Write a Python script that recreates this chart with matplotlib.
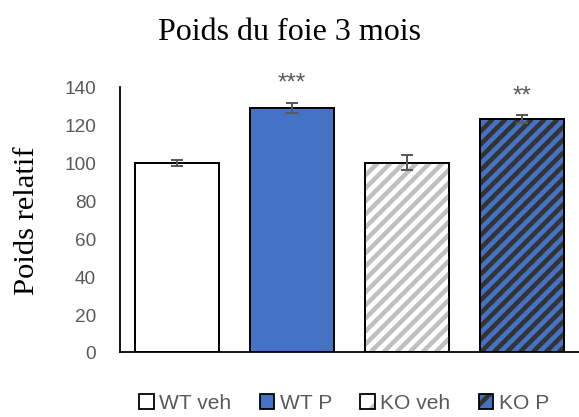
import matplotlib.pyplot as plt
from matplotlib.patches import Patch
from matplotlib.collections import LineCollection
from matplotlib.transforms import IdentityTransform
from matplotlib.legend_handler import HandlerTuple

# données : poids du foie relatif à 3 mois
groupes = ['WT veh', 'WT P', 'KO veh', 'KO P']
poids = [100, 129, 100, 123]
erreurs = [1.5, 2.7, 4, 2]
etoiles = ['', '***', '', '**']
fonds = ['white', '#4472C4', 'white', '#4472C4']
rayees = [False, False, True, True]
couleurs_rayures = [None, None, '#c0c0c0', '#333333']

DPI = 78
P = 72 / DPI  # pixels -> points
gris = '#595959'

fig = plt.figure(figsize=(579 / DPI, 418 / DPI), dpi=DPI)
ax = fig.add_axes([120 / 579, 1 - 353 / 418, 459 / 579, (353 - 88) / 418])

x = range(len(groupes))
barres = ax.bar(x, poids, width=0.73, color=fonds, edgecolor='black',
                linewidth=1.8 * P, zorder=2)
ax.errorbar(x, poids, yerr=erreurs, fmt='none', ecolor=gris,
            elinewidth=2 * P, capsize=6 * P, capthick=2 * P, zorder=4)
for i in x:
    if etoiles[i]:
        ax.text(i, poids[i] + erreurs[i] + 7.5, etoiles[i], ha='center', va='baseline',
                color=gris, fontsize=24 * P, family='Liberation Sans')

ax.set_xlim(-0.5, 3.5)
ax.set_ylim(0, 140)


def rayures(barre, couleur, pas=13, epaisseur=4.5):
    # rayures diagonales à 45°, en pixels, découpées sur la barre
    x0, y0, x1, y1 = barre.get_window_extent().extents
    h = y1 - y0
    segs = []
    d = x0 - h
    while d < x1:
        segs.append([(d, y0), (d + h, y1)])
        d += pas
    lc = LineCollection(segs, colors=couleur, linewidths=epaisseur * P,
                        transform=IdentityTransform(), zorder=2.5)
    ax.add_collection(lc, autolim=False)
    lc.set_clip_path(barre)


for b, r, c in zip(barres, rayees, couleurs_rayures):
    if r:
        rayures(b, c)
# contour noir au-dessus des rayures
ax.bar(x, poids, width=0.73, fill=False, edgecolor='black', linewidth=1.8 * P, zorder=3)

ax.set_yticks(range(0, 141, 20))
ax.set_xticks([])
ax.tick_params(axis='y', length=0, pad=24 * P, labelsize=19 * P, labelcolor=gris)
for lab in ax.get_yticklabels():
    lab.set_family('Liberation Sans')
for s in ['top', 'right']:
    ax.spines[s].set_visible(False)
for s in ['left', 'bottom']:
    ax.spines[s].set_linewidth(1.8 * P)
    ax.spines[s].set_color('black')
    ax.spines[s].set_zorder(5)

ax.set_ylabel('Poids relatif', family='Liberation Serif', fontsize=30.5 * P, labelpad=24 * P)
fig.text(0.5, 1 - 33 / 418, 'Poids du foie 3 mois', ha='center', va='center',
         family='Liberation Serif', fontsize=32 * P)

plt.rcParams['hatch.linewidth'] = 4.5 * P
poignees = []
for i in x:
    fond = Patch(facecolor=fonds[i], hatch='/' if rayees[i] else '',
                 edgecolor=couleurs_rayures[i] or fonds[i], linewidth=0)
    contour = Patch(fill=False, edgecolor='black', linewidth=1.8 * P)
    poignees.append((fond, contour))
leg = fig.legend(poignees, groupes, loc='center', bbox_to_anchor=(344 / 579, 1 - 404 / 418),
                 ncol=4, frameon=False, handlelength=0.7, handleheight=0.7,
                 handletextpad=0.25, columnspacing=1.35,
                 handler_map={tuple: HandlerTuple(ndivide=1)},
                 prop={'family': 'Liberation Sans', 'size': 21 * P})
for t in leg.get_texts():
    t.set_color(gris)

fig.savefig('out.png', dpi=DPI)
